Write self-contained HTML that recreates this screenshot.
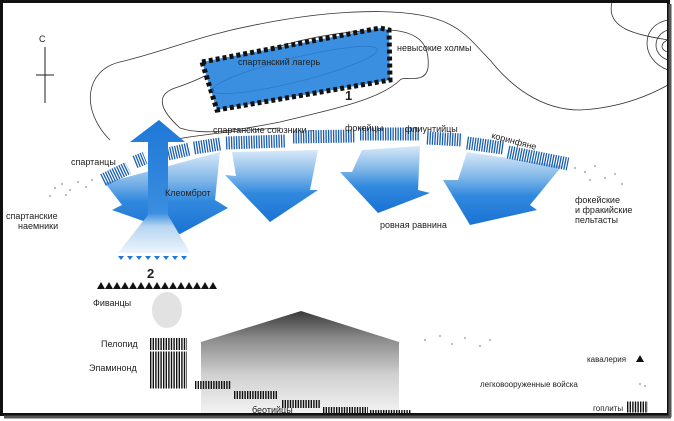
<!DOCTYPE html>
<html><head><meta charset="utf-8"><style>
html,body{margin:0;padding:0;background:#fff;}
svg{display:block;}
text{font-family:"Liberation Sans","DejaVu Sans",sans-serif;fill:#222;}
</style></head><body>
<svg width="674" height="421" viewBox="0 0 674 421" xmlns="http://www.w3.org/2000/svg">
<defs>
<linearGradient id="dn" x1="0" y1="0" x2="0" y2="1">
<stop offset="0" stop-color="#d8e9f8"/><stop offset="0.35" stop-color="#7fb6e8"/><stop offset="0.6" stop-color="#3189de"/><stop offset="1" stop-color="#1a72d4"/>
</linearGradient>
<linearGradient id="up" x1="0" y1="1" x2="0" y2="0">
<stop offset="0" stop-color="#eef5fc"/><stop offset="0.2" stop-color="#b5d5f0"/><stop offset="0.3" stop-color="#3a8ee0"/><stop offset="1" stop-color="#1f78d8"/>
</linearGradient>
<linearGradient id="gr" x1="0" y1="0" x2="0" y2="1">
<stop offset="0" stop-color="#3a3a3a"/><stop offset="0.25" stop-color="#888"/><stop offset="0.6" stop-color="#d0d0d0"/><stop offset="1" stop-color="#f6f6f6"/>
</linearGradient>
</defs>
<rect x="0" y="0" width="674" height="421" fill="#fff"/>
<g fill="none" stroke="#333" stroke-width="0.8">
<path d="M110,140 C80,110 85,70 120,62 C170,50 200,35 260,24 C320,12 380,8 420,15 C460,22 470,40 490,60 C510,85 540,110 580,110 C620,108 650,95 668,85"/>
<path d="M612,2 C605,30 640,35 668,40"/>
<path d="M180,128 C160,110 155,95 175,88 C200,80 215,70 240,60 C290,40 340,30 390,30 C420,32 430,45 428,68 C425,85 405,75 400,80 C380,100 330,110 280,122 C230,132 200,135 180,128 Z"/>
<path d="M668,20 C640,25 640,60 668,70"/>
<path d="M668,30 C652,35 652,55 668,60"/>
<path d="M668,40 C660,43 660,50 668,52"/>
<path d="M170,140 C200,135 240,130 280,128"/>
</g>
<polygon points="202,62 380,28 389,30 390,80 217,110" fill="#3b8fe0" stroke="#111" stroke-width="5" stroke-dasharray="4 3"/>
<ellipse cx="295" cy="70" rx="85" ry="12" transform="rotate(-14 295 70)" fill="none" stroke="#2c78c8" stroke-width="0.8"/>
<text x="238" y="65" font-size="9" fill="#1a4f90">спартанский лагерь</text>
<text x="397" y="51" font-size="9">невысокие холмы</text>
<text x="345" y="100" font-size="13" font-weight="bold">1</text>
<text x="39" y="42" font-size="9">С</text>
<line x1="45" y1="47" x2="45" y2="103" stroke="#222" stroke-width="1"/>
<line x1="36" y1="75" x2="54" y2="75" stroke="#222" stroke-width="1"/>
<g fill="#aaa">
<circle cx="55" cy="188" r="1"/><circle cx="62" cy="184" r="1"/><circle cx="70" cy="190" r="1"/><circle cx="78" cy="182" r="1"/><circle cx="86" cy="187" r="1"/><circle cx="92" cy="180" r="1"/><circle cx="66" cy="195" r="1"/><circle cx="50" cy="196" r="1"/>
<circle cx="575" cy="168" r="1"/><circle cx="585" cy="172" r="1"/><circle cx="595" cy="166" r="1"/><circle cx="605" cy="178" r="1"/><circle cx="615" cy="174" r="1"/><circle cx="622" cy="184" r="1"/><circle cx="590" cy="180" r="1"/>
<circle cx="425" cy="340" r="1"/><circle cx="440" cy="336" r="1"/><circle cx="452" cy="344" r="1"/><circle cx="465" cy="338" r="1"/><circle cx="480" cy="346" r="1"/><circle cx="490" cy="340" r="1"/>
</g>
<polygon points="105,183 220,152 215,200 228,208 180,234 112,210 122,205" fill="url(#dn)"/>
<polygon points="232,152 318,150 310,190 318,190 270,222 225,175 236,176" fill="url(#dn)"/>
<polygon points="362,150 420,146 418,190 430,193 378,213 340,172 352,172" fill="url(#dn)"/>
<polygon points="467,152 562,166 530,205 537,210 470,225 443,180 458,180" fill="url(#dn)"/>
<g fill="none" stroke="#1a5fb0" stroke-width="13" stroke-dasharray="1.3 1.2">
<line x1="103" y1="180" x2="128" y2="168"/>
<line x1="135" y1="162" x2="145" y2="158"/>
<line x1="168" y1="154" x2="190" y2="149"/>
<line x1="194" y1="148" x2="220" y2="144"/>
<line x1="226" y1="143" x2="285" y2="141"/>
<line x1="293" y1="137" x2="355" y2="136"/>
<line x1="360" y1="134" x2="420" y2="134"/>
<line x1="427" y1="138" x2="462" y2="140"/>
<line x1="467" y1="143" x2="503" y2="148"/>
<line x1="508" y1="152" x2="568" y2="164"/>
</g>
<polygon points="159,120 185,142 168,142 168,215 190,253 118,253 148,215 148,142 130,142" fill="url(#up)"/>
<text x="165" y="196" font-size="9" fill="#1a4f90">Клеомброт</text>
<g fill="#1f78d8">
<path d="M118,256 h6 l-3,4z M127,256 h6 l-3,4z M136,256 h6 l-3,4z M145,256 h6 l-3,4z M154,256 h6 l-3,4z M163,256 h6 l-3,4z M172,256 h6 l-3,4z M181,256 h6 l-3,4z"/>
</g>
<text x="147" y="278" font-size="13" font-weight="bold">2</text>
<text x="213" y="133" font-size="9">спартанские союзники –</text>
<text x="345" y="131" font-size="9">фокейцы</text>
<text x="405" y="132" font-size="9">флиунтийцы</text>
<text x="491" y="138" font-size="9" transform="rotate(15 491 138)">коринфяне</text>
<text x="71" y="165" font-size="9">спартанцы</text>
<text x="6" y="219" font-size="9">спартанские</text>
<text x="18" y="229" font-size="9">наемники</text>
<text x="380" y="228" font-size="9">ровная равнина</text>
<text x="575" y="203" font-size="9">фокейские</text>
<text x="575" y="213" font-size="9">и фракийские</text>
<text x="575" y="223" font-size="9">пельтасты</text>
<g fill="#111">
<path d="M97,289 l4,-7 l4,7z M105,289 l4,-7 l4,7z M113,289 l4,-7 l4,7z M121,289 l4,-7 l4,7z M129,289 l4,-7 l4,7z M137,289 l4,-7 l4,7z M145,289 l4,-7 l4,7z M153,289 l4,-7 l4,7z M161,289 l4,-7 l4,7z M169,289 l4,-7 l4,7z M177,289 l4,-7 l4,7z M185,289 l4,-7 l4,7z M193,289 l4,-7 l4,7z M201,289 l4,-7 l4,7z M209,289 l4,-7 l4,7z"/>
</g>
<ellipse cx="167" cy="310" rx="15" ry="18" fill="#e2e2e2"/>
<text x="93" y="306" font-size="9">Фиванцы</text>
<text x="101" y="347" font-size="9">Пелопид</text>
<text x="89" y="371" font-size="9">Эпаминонд</text>
<g fill="none" stroke="#111" stroke-dasharray="1.4 1.2">
<line x1="150" y1="344" x2="187" y2="344" stroke-width="12"/>
<line x1="150" y1="370" x2="187" y2="370" stroke-width="37"/>
</g>
<polygon points="301,311 399,342 399,417 201,417 201,342" fill="url(#gr)"/>
<g fill="none" stroke="#111" stroke-dasharray="1.4 1.2" stroke-width="8">
<line x1="195" y1="385" x2="231" y2="385"/>
<line x1="234" y1="395" x2="278" y2="395"/>
<line x1="282" y1="404" x2="321" y2="404"/>
<line x1="323" y1="411" x2="368" y2="411"/>
<line x1="370" y1="414" x2="411" y2="414"/>
</g>
<text x="252" y="413" font-size="9">беотийцы</text>
<text x="587" y="362" font-size="8">кавалерия</text>
<path d="M636,362 l4,-7 l4,7z" fill="#111"/>
<text x="480" y="387" font-size="8">легковооруженные войска</text>
<circle cx="640" cy="384" r="1" fill="#aaa"/><circle cx="645" cy="386" r="1" fill="#aaa"/>
<text x="593" y="411" font-size="8">гоплиты</text>
<line x1="627" y1="407" x2="648" y2="407" stroke="#111" stroke-width="11" stroke-dasharray="1.4 1.2"/>
<rect x="1.5" y="1.5" width="667" height="413" fill="none" stroke="#111" stroke-width="3"/>
<line x1="670" y1="4" x2="670" y2="417" stroke="#555" stroke-width="3"/>
<line x1="4" y1="417" x2="671" y2="417" stroke="#555" stroke-width="3"/>
</svg>
</body></html>
